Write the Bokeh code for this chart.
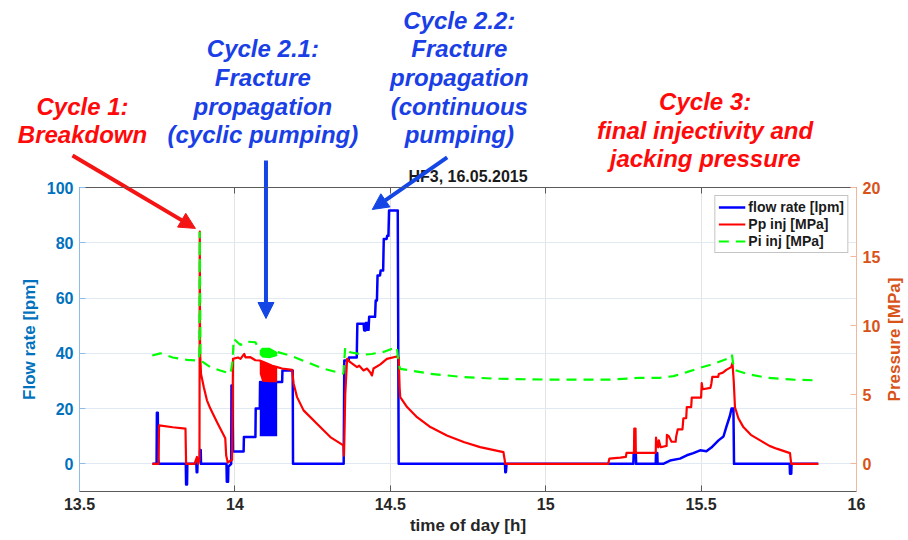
from bokeh.plotting import figure
from bokeh.layouts import column, row
from bokeh.models import (Range1d, LinearAxis, FixedTicker, Label, Arrow, NormalHead,
                          Legend, LegendItem, ColumnDataSource)
from bokeh.embed import file_html
from bokeh.resources import INLINE

FONT = "Liberation Sans"

# ---------------- data: injection test HF3, 16.05.2015 ----------------
# flow rate [lpm] vs time of day [h]
flow_t = [13.735, 13.748, 13.749, 13.752, 13.753, 13.755,
          13.842, 13.843, 13.846, 13.847,
          13.876, 13.877, 13.879, 13.880, 13.887, 13.888, 13.890, 13.891,
          13.973, 13.974, 13.978, 13.979, 13.988, 13.989, 13.992, 13.994,
          14.028, 14.029, 14.066, 14.067, 14.080, 14.081, 14.136, 14.152, 14.153, 14.186, 14.187,
          14.350, 14.352, 14.366, 14.367, 14.392, 14.394, 14.414, 14.416, 14.420, 14.421,
          14.426, 14.427, 14.430, 14.432, 14.451, 14.453, 14.457, 14.459, 14.467, 14.469,
          14.477, 14.479, 14.488, 14.490, 14.494, 14.496, 14.524, 14.527,
          14.869, 14.870, 14.872, 14.874,
          15.282, 15.283, 15.290, 15.291, 15.354, 15.355, 15.359, 15.360,
          15.378, 15.400, 15.432, 15.454, 15.475, 15.497, 15.517, 15.533,
          15.556, 15.572, 15.581, 15.593, 15.598, 15.604, 15.606,
          15.785, 15.786, 15.790, 15.791, 15.877]
flow_lpm = [0, 0, 18.5, 18.5, 2, 0,
            0, -7.5, -7.5, 0,
            0, -3, -3, 1, 1, 5, 5, 0,
            0, -6.5, -6.5, -1, 0, 28.4, 28.4, 4.5,
            4.5, 9.7, 9.7, 20, 20, 29.6, 29.6, 29.6, 33.8, 33.8, 0,
            0, 37.4, 37.4, 38.5, 38.5, 50.7, 50.7, 48.3, 48.3, 51,
            51, 48.5, 48.5, 53.2, 53.2, 59.1, 59.1, 68.2, 68.2, 70,
            70, 81.4, 81.4, 82.5, 82.5, 91.7, 91.7, 0,
            0, -3, -3, 0,
            0, 3.7, 3.7, 0, 0, 3.9, 3.9, 0,
            0, 1.2, 1.9, 3.1, 3.9, 4.9, 4.6, 5.9,
            8.5, 9.9, 13.3, 17.5, 20, 20, 0,
            0, -3.6, -3.6, 0, 0]

# Pp inj [MPa]
pp_t = [13.734, 13.754, 13.756, 13.800, 13.841, 13.843, 13.870, 13.878, 13.882, 13.886,
        13.887, 13.888, 13.891, 13.900, 13.910, 13.921, 13.943, 13.969, 13.972, 13.977,
        13.991, 13.994, 14.010, 14.018, 14.030, 14.034, 14.050, 14.066, 14.080, 14.100,
        14.120, 14.136, 14.152, 14.184, 14.189, 14.200, 14.221, 14.264, 14.307, 14.349,
        14.351, 14.355, 14.361, 14.371, 14.393, 14.400, 14.414, 14.425, 14.436, 14.441,
        14.446, 14.468, 14.489, 14.521, 14.527, 14.530, 14.532, 14.554, 14.586, 14.629,
        14.682, 14.736, 14.789, 14.864, 14.870, 15.201, 15.205, 15.240, 15.258, 15.260,
        15.284, 15.285, 15.289, 15.290, 15.354, 15.355, 15.358, 15.362, 15.364, 15.370,
        15.389, 15.390, 15.396, 15.405, 15.418, 15.420, 15.425, 15.440, 15.443, 15.452,
        15.454, 15.468, 15.470, 15.500, 15.502, 15.505, 15.530, 15.533, 15.536, 15.555,
        15.557, 15.570, 15.581, 15.597, 15.601, 15.605, 15.609, 15.620, 15.636, 15.660,
        15.690, 15.720, 15.743, 15.786, 15.790, 15.877]
pp_mpa = [0, 0, 2.78, 2.65, 2.55, 0, 0, 0.5, 0, 0.3,
          16.8, 8.1, 6.5, 5.55, 4.6, 4.0, 3.0, 1.85, 0.6, 0.1,
          0.3, 7.6, 7.7, 7.6, 7.96, 7.7, 7.72, 7.5, 7.48, 7.3,
          7.1, 7.0, 6.9, 6.8, 5.8, 4.83, 3.87, 2.9, 1.94, 1.34,
          0.6, 5.0, 7.6, 7.36, 7.0, 7.1, 6.76, 6.9, 6.6, 6.4,
          6.9, 7.2, 7.6, 7.77, 7.7, 5.5, 4.83, 4.11, 3.38, 2.66,
          2.06, 1.58, 1.21, 0.85, 0, 0, 0.38, 0.45, 0.5, 0.8,
          0.8, 2.55, 2.55, 0.8, 0.8, 1.9, 1.4, 1.2, 1.7, 1.2,
          1.3, 2.1, 2.0, 1.6, 1.6, 2.0, 2.5, 2.5, 3.3, 3.3,
          4.1, 4.1, 4.8, 4.8, 5.84, 5.4, 5.5, 5.8, 6.3, 6.3,
          6.5, 6.6, 6.8, 7.0, 7.3, 6.0, 4.1, 3.3, 2.66, 2.1,
          1.7, 1.3, 1.1, 0.78, 0, 0]

# Pi inj [MPa]
pi_t = [13.734, 13.760, 13.800, 13.846, 13.884, 13.886, 13.887, 13.889, 13.895, 13.921,
        13.953, 13.986, 13.993, 13.996, 14.018, 14.034, 14.066, 14.077, 14.136, 14.178,
        14.232, 14.286, 14.349, 14.352, 14.355, 14.371, 14.414, 14.440, 14.478, 14.521,
        14.527, 14.532, 14.629, 14.736, 14.843, 15.000, 15.200, 15.304, 15.368, 15.411,
        15.454, 15.497, 15.540, 15.583, 15.599, 15.606, 15.647, 15.711, 15.797, 15.877]
pi_mpa = [7.84, 8.0, 7.7, 7.53, 7.48, 8.0, 16.8, 8.0, 7.4, 7.0,
          6.76, 6.52, 7.5, 9.05, 8.6, 8.85, 8.8, 8.3, 8.1, 7.84,
          7.36, 6.88, 6.52, 7.5, 8.45, 8.08, 7.9, 7.95, 8.1, 8.45,
          7.2, 6.88, 6.52, 6.28, 6.16, 6.1, 6.09, 6.23, 6.23, 6.35,
          6.64, 6.95, 7.24, 7.6, 7.92, 6.81, 6.52, 6.23, 6.09, 6.04]

# cyclic pumping (cycle 2.1): envelope of the rapid on/off cycles
cyc_t = [14.080, 14.088, 14.112, 14.136]
cyc_flow_lo = [10, 10, 10, 10]
cyc_flow_hi = [29.6, 29.6, 29.6, 29.6]
cyc_pp_lo = [6.5, 5.95, 5.9, 5.9]
cyc_pp_hi = [7.45, 7.4, 7.2, 7.0]
cyc_pi_lo = [7.9, 7.7, 7.65, 7.8]
cyc_pi_hi = [8.2, 8.4, 8.4, 8.1]

x_ticks = [13.5, 14, 14.5, 15, 15.5, 16]
x_tick_labels = ["13.5", "14", "14.5", "15", "15.5", "16"]
flow_ticks = [0, 20, 40, 60, 80, 100]
pressure_ticks = [0, 5, 10, 15, 20]

# ---------------- page geometry ----------------
W, H = 908, 540
STRIP = 24                                           # right strip holding the pressure title
B_LEFT, B_RIGHT, B_TOP, B_BOTTOM = 79, 52, 187, 49
T_LO, T_HI = 13.5, 16.0
F_LO, F_HI = -10.0, 100.0
P_LO, P_HI = -2.0, 20.0

px_per_h = (W - B_LEFT - B_RIGHT) / (T_HI - T_LO)
px_per_lpm = (H - B_TOP - B_BOTTOM) / (F_HI - F_LO)

BLUE_AX = "#0072BD"
ORANGE_AX = "#D95319"


def free_frame(fig):
    # each figure keeps its own frame; no alignment across the layout
    if "frame_align" in fig.properties():
        fig.frame_align = False


# ---------------- main chart (transparent margins, drawn over the header strip) ----------------
p = figure(width=W - STRIP, height=H,
           x_range=Range1d(T_LO, T_HI), y_range=Range1d(F_LO, F_HI),
           output_backend="svg", toolbar_location=None, title=None,
           min_border_left=B_LEFT, min_border_right=B_RIGHT - STRIP, min_border_top=B_TOP,
           min_border_bottom=B_BOTTOM,
           background_fill_color="white", border_fill_alpha=0)
free_frame(p)
p.extra_y_ranges = {"pressure": Range1d(P_LO, P_HI)}
p.outline_line_color = None

xa = p.xaxis[0]
xa.ticker = FixedTicker(ticks=x_ticks)
xa.major_label_overrides = dict(zip(x_ticks, x_tick_labels))
xa.axis_label = "time of day [h]"
xa.axis_label_text_font = FONT
xa.axis_label_text_font_size = "17px"
xa.axis_label_text_font_style = "bold"
xa.axis_label_text_color = "#262626"
xa.axis_label_standoff = 3
xa.major_label_text_font = FONT
xa.major_label_text_font_size = "16px"
xa.major_label_text_font_style = "bold"
xa.major_label_text_color = "#262626"
xa.major_label_standoff = 6
xa.axis_line_color = "#5a5a5a"
xa.major_tick_line_color = "#5a5a5a"
xa.major_tick_in = 6
xa.major_tick_out = 0
xa.minor_tick_line_color = None

# top frame line with mirrored ticks, no labels
top = LinearAxis(ticker=FixedTicker(ticks=x_ticks), major_label_text_font_size="0px",
                 major_label_overrides={t: "" for t in x_ticks},
                 major_label_standoff=0, axis_label_standoff=0,
                 major_tick_in=6, major_tick_out=0,
                 minor_tick_line_color=None, axis_line_color="#5a5a5a",
                 major_tick_line_color="#5a5a5a")
p.add_layout(top, "above")

ya = p.yaxis[0]
ya.ticker = FixedTicker(ticks=flow_ticks)
ya.axis_label = "Flow rate [lpm]"
ya.axis_line_color = "#8dbde6"
ya.major_tick_line_color = "#8dbde6"

yr = LinearAxis(y_range_name="pressure", ticker=FixedTicker(ticks=pressure_ticks))
yr.axis_line_color = "#f3b79c"
yr.major_tick_line_color = "#f3b79c"
p.add_layout(yr, "right")

for ax, col in [(ya, BLUE_AX), (yr, ORANGE_AX)]:
    ax.major_label_text_font = FONT
    ax.major_label_text_font_size = "16px"
    ax.major_label_text_font_style = "bold"
    ax.major_label_text_color = col
    ax.major_label_standoff = 6
    ax.axis_label_text_font = FONT
    ax.axis_label_text_font_size = "17px"
    ax.axis_label_text_font_style = "bold"
    ax.axis_label_text_color = col
    ax.axis_label_standoff = 5
    ax.major_tick_in = 6
    ax.major_tick_out = 0
    ax.minor_tick_line_color = None

p.xgrid.ticker = FixedTicker(ticks=x_ticks)
p.xgrid.grid_line_color = "#e4e4e4"
p.ygrid.ticker = FixedTicker(ticks=flow_ticks)
p.ygrid.grid_line_color = "#e1e9f3"

src_flow = ColumnDataSource(dict(t=flow_t, v=flow_lpm))
src_pp = ColumnDataSource(dict(t=pp_t, v=pp_mpa))
src_pi = ColumnDataSource(dict(t=pi_t, v=pi_mpa))
src_cyc = ColumnDataSource(dict(t=cyc_t, flo=cyc_flow_lo, fhi=cyc_flow_hi,
                                plo=cyc_pp_lo, phi=cyc_pp_hi, ilo=cyc_pi_lo, ihi=cyc_pi_hi))

r_flow = p.line("t", "v", source=src_flow, line_color="#0000ff", line_width=2.5,
                line_join="round")
p.varea(x="t", y1="flo", y2="fhi", source=src_cyc, fill_color="#0000ff")

r_pp = p.line("t", "v", source=src_pp, y_range_name="pressure", line_color="#ff0000",
              line_width=2.2, line_join="round")
p.varea(x="t", y1="plo", y2="phi", source=src_cyc, y_range_name="pressure",
        fill_color="#ff0000")

r_pi = p.line("t", "v", source=src_pi, y_range_name="pressure", line_color="#00ff00",
              line_width=2.2, line_dash="10 7")
p.varea(x="t", y1="ilo", y2="ihi", source=src_cyc, y_range_name="pressure",
        fill_color="#00ff00")

legend = Legend(items=[LegendItem(label="flow rate [lpm]", renderers=[r_flow]),
                       LegendItem(label="Pp inj [MPa]", renderers=[r_pp]),
                       LegendItem(label="Pi inj [MPa]", renderers=[r_pi])],
                location="top_right")
legend.label_text_font = FONT
legend.label_text_font_size = "14px"
legend.label_text_font_style = "bold"
legend.label_text_color = "#1a1a1a"
legend.border_line_color = "#8a8a8a"
legend.background_fill_alpha = 1
legend.glyph_width = 27
legend.glyph_height = 14
legend.label_height = 16
legend.label_standoff = 3
legend.padding = 3
legend.spacing = 1
legend.margin = 8
p.add_layout(legend)

# ---------------- right strip: pressure axis title, reading upwards ----------------
strip = figure(width=STRIP, height=H, x_range=Range1d(0, STRIP), y_range=Range1d(0, H),
               output_backend="svg", toolbar_location=None, title=None,
               x_axis_location=None, y_axis_location=None, min_border=0,
               background_fill_alpha=0, border_fill_alpha=0)
free_frame(strip)
strip.outline_line_color = None
strip.grid.visible = False
strip.add_layout(Label(x=9.5, y=B_BOTTOM + (H - B_TOP - B_BOTTOM) / 2, text="Pressure [MPa]",
                       angle=90, angle_units="deg", text_align="center",
                       text_baseline="middle", text_font=FONT, text_font_size="17px",
                       text_font_style="bold", text_color=ORANGE_AX))

# ---------------- header strip: title and cycle annotations ----------------
# same time / flow scale as the chart, extended over the page margins
head = figure(width=W, height=B_TOP,
              x_range=Range1d(T_LO - B_LEFT / px_per_h, T_HI + B_RIGHT / px_per_h),
              y_range=Range1d(F_HI, F_HI + B_TOP / px_per_lpm),
              output_backend="svg", toolbar_location=None, title=None,
              x_axis_location=None, y_axis_location=None, min_border=0,
              background_fill_color="white", border_fill_color="white")
free_frame(head)
head.outline_line_color = None
head.grid.visible = False

head.add_layout(Label(x=(T_LO + T_HI) / 2, y=103.8, text="HF3, 16.05.2015",
                      text_align="center", text_baseline="middle", text_font=FONT,
                      text_font_size="16px", text_font_style="bold", text_color="#1a1a1a"))

RED_TXT = "#ff0a0a"
BLUE_TXT = "#1a3fe6"

# (x centre, y of each line's middle, lines, colour)
notes = [
    (13.5096, [129.3, 119.0], ["Cycle 1:", "Breakdown"], RED_TXT),
    (14.090, [150.16, 139.81, 129.46, 119.11],
     ["Cycle 2.1:", "Fracture", "propagation", "(cyclic pumping)"], BLUE_TXT),
    (14.722, [160.51, 150.16, 139.81, 129.46, 119.11],
     ["Cycle 2.2:", "Fracture", "propagation", "(continuous", "pumping)"], BLUE_TXT),
    (15.513, [131.0, 120.7, 110.36],
     ["Cycle 3:", "final injectivity and", "jacking pressure"], RED_TXT),
]
for x, ys, lines, col in notes:
    for y, txt in zip(ys, lines):
        head.add_layout(Label(x=x, y=y, text=txt, text_align="center",
                              text_baseline="middle", text_font=FONT,
                              text_font_size="24px", text_font_style="bold italic",
                              text_color=col))

# arrows run from the header into the chart: shaft in both, head in the chart
arrows = [
    ((13.4775, 111.6), (13.873, 85.2), "#f51414"),
    ((14.100, 109.8), (14.100, 52.6), "#1446e6"),
    ((14.683, 110.9), (14.442, 92.05), "#1446e6"),
]
for (x0, y0), (x1, y1), col in arrows:
    head.add_layout(Arrow(x_start=x0, y_start=y0, x_end=x1, y_end=y1,
                          line_color=col, line_width=4, end=None))
    p.add_layout(Arrow(x_start=x0, y_start=y0, x_end=x1, y_end=y1,
                       line_color=col, line_width=4,
                       end=NormalHead(size=16, fill_color=col, line_color=col)))

# the chart row is pulled up so its (transparent) top margin lies over the header
chart_row = row(p, strip, spacing=0)
chart_row.margin = (-B_TOP, 0, 0, 0)
page = column(head, chart_row, spacing=0)
open("out.html", "w").write(file_html(page, INLINE))
